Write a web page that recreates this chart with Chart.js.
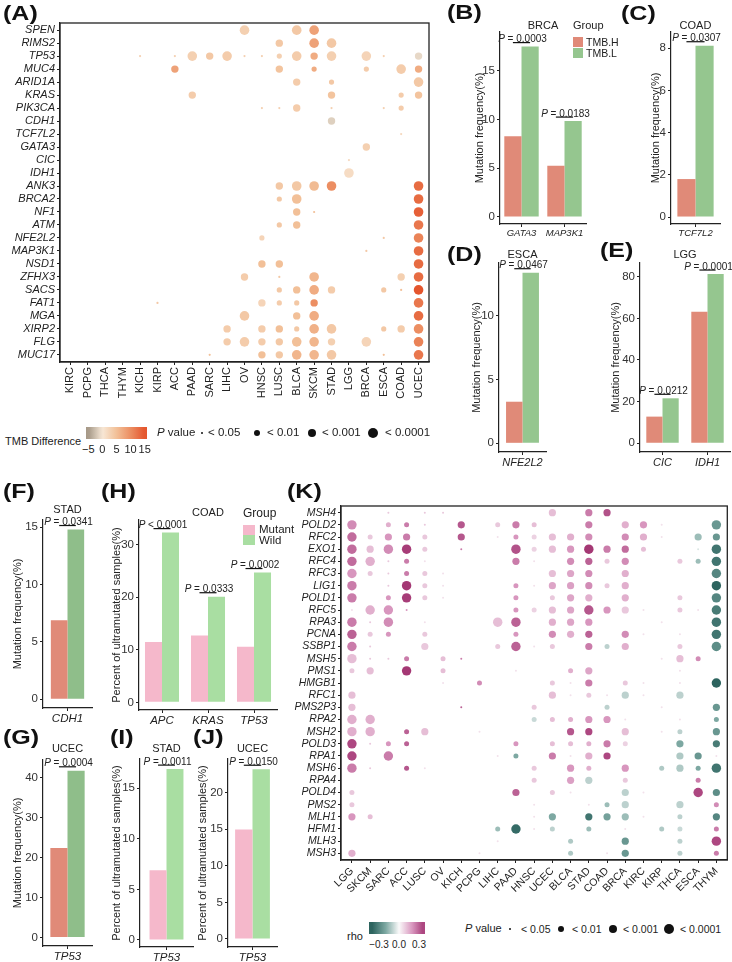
<!DOCTYPE html>
<html>
<head>
<meta charset="utf-8">
<script src="https://cdn.jsdelivr.net/npm/chart.js@4.4.0/dist/chart.umd.min.js"></script>
<style>
body { margin: 0; background: #fff; font-family: "Liberation Sans", Arial, sans-serif; }
#page { position: relative; width: 732px; height: 962px; overflow: hidden; background: #fff; }
.box { position: absolute; }
.t { position: absolute; line-height: 1.2; white-space: nowrap; color: #222; }
.lab { position: absolute; font-weight: bold; font-size: 20px; line-height: 1; transform: scaleX(1.25); transform-origin: left top; color: #111; }
.dot { position: absolute; border-radius: 50%; background: #111; }
.sw { position: absolute; }
</style>
</head>
<body>
<div id="page"></div>
<script>
const FONT = '"Liberation Sans", Arial, sans-serif';
Chart.defaults.font.family = FONT;

// ---------- panel A: genes x cancers, TMB difference ----------
const aGenes = ['SPEN','RIMS2','TP53','MUC4','ARID1A','KRAS','PIK3CA','CDH1','TCF7L2','GATA3','CIC','IDH1','ANK3','BRCA2','NF1','ATM','NFE2L2','MAP3K1','NSD1','ZFHX3','SACS','FAT1','MGA','XIRP2','FLG','MUC17'];
const aCancers = ['KIRC','PCPG','THCA','THYM','KICH','KIRP','ACC','PAAD','SARC','LIHC','OV','HNSC','LUSC','BLCA','SKCM','STAD','LGG','BRCA','ESCA','COAD','UCEC'];
// [gene, cancer, TMB difference, p level (1: <0.05 ... 4: <0.0001)]
const aDots = [
  ['SPEN','OV',3,4],['SPEN','BLCA',4,4],['SPEN','SKCM',8,4],
  ['RIMS2','LUSC',4,3],['RIMS2','SKCM',8,4],['RIMS2','STAD',4,4],
  ['TP53','KICH',3,1],['TP53','ACC',3,1],['TP53','PAAD',3,4],['TP53','SARC',4,3],['TP53','LIHC',3.5,4],['TP53','OV',3,1],['TP53','HNSC',3,1],['TP53','LUSC',3,2],['TP53','BLCA',3.5,4],['TP53','SKCM',7,3],['TP53','STAD',3,4],['TP53','BRCA',2.5,4],['TP53','ESCA',3,1],['TP53','UCEC',-1,3],
  ['MUC4','ACC',8,3],['MUC4','LUSC',4.5,3],['MUC4','SKCM',7,2],['MUC4','BRCA',3.5,2],['MUC4','COAD',3.5,4],['MUC4','UCEC',7,3],
  ['ARID1A','BLCA',3.5,3],['ARID1A','STAD',4,2],['ARID1A','UCEC',4,4],
  ['KRAS','PAAD',3.5,3],['KRAS','STAD',4.5,3],['KRAS','COAD',3.5,2],['KRAS','UCEC',4.5,3],
  ['PIK3CA','HNSC',3,1],['PIK3CA','LUSC',3,1],['PIK3CA','BLCA',3.5,3],['PIK3CA','STAD',3,1],['PIK3CA','ESCA',3,1],['PIK3CA','COAD',3.5,2],
  ['CDH1','STAD',-1.5,3],
  ['TCF7L2','COAD',2,1],
  ['GATA3','BRCA',3,3],
  ['CIC','LGG',2,1],
  ['IDH1','LGG',1.5,4],
  ['ANK3','LUSC',4,3],['ANK3','BLCA',4,4],['ANK3','SKCM',5.5,4],['ANK3','STAD',10,4],['ANK3','UCEC',13,4],
  ['BRCA2','LUSC',4,2],['BRCA2','BLCA',5,4],['BRCA2','UCEC',13,4],
  ['NF1','BLCA',5,3],['NF1','SKCM',5,1],['NF1','UCEC',14,4],
  ['ATM','LUSC',4,2],['ATM','BLCA',5,3],['ATM','UCEC',12,4],
  ['NFE2L2','HNSC',2.5,2],['NFE2L2','ESCA',4,1],['NFE2L2','UCEC',11,4],
  ['MAP3K1','BRCA',4,1],['MAP3K1','UCEC',13,4],
  ['NSD1','HNSC',5,3],['NSD1','LUSC',5,3],['NSD1','UCEC',13,4],
  ['ZFHX3','OV',3.5,3],['ZFHX3','LUSC',4,1],['ZFHX3','SKCM',6,4],['ZFHX3','COAD',3,3],['ZFHX3','UCEC',13,4],
  ['SACS','LUSC',4,2],['SACS','BLCA',5,3],['SACS','SKCM',7,4],['SACS','STAD',3.5,3],['SACS','ESCA',4,2],['SACS','COAD',5,1],['SACS','UCEC',15,4],
  ['FAT1','KIRP',4,1],['FAT1','HNSC',2.5,3],['FAT1','LUSC',3.5,2],['FAT1','BLCA',4,2],['FAT1','SKCM',10,3],['FAT1','UCEC',12,4],
  ['MGA','OV',4,4],['MGA','BLCA',5,3],['MGA','SKCM',7,4],['MGA','UCEC',13,4],
  ['XIRP2','LIHC',3.5,3],['XIRP2','HNSC',3.5,3],['XIRP2','LUSC',5,3],['XIRP2','BLCA',4,2],['XIRP2','SKCM',6.5,4],['XIRP2','STAD',4,4],['XIRP2','ESCA',4,2],['XIRP2','COAD',3.5,3],['XIRP2','UCEC',10,4],
  ['FLG','LIHC',3.5,3],['FLG','OV',3.5,4],['FLG','HNSC',3.5,3],['FLG','LUSC',4,3],['FLG','BLCA',5,4],['FLG','SKCM',6,4],['FLG','STAD',3,3],['FLG','BRCA',2.5,4],['FLG','UCEC',11,4],
  ['MUC17','SARC',5,1],['MUC17','HNSC',5,3],['MUC17','LUSC',4,3],['MUC17','BLCA',6,4],['MUC17','SKCM',6,4],['MUC17','STAD',4,4],['MUC17','ESCA',5,1],['MUC17','UCEC',12,4]
];
const aLegendTicks = [-5, 0, 5, 10, 15];

// ---------- panels B-J: bar values ----------
const bGenes = ['GATA3','MAP3K1'];  const bHigh = [8.3, 5.25];  const bLow = [17.5, 9.85];  const bP = ['P = 0.0003','P = 0.0183']; const bTicks = [0,5,10,15];
const cGenes = ['TCF7L2'];          const cHigh = [1.8];        const cLow = [8.12];        const cP = ['P = 0.0307']; const cTicks = [0,2,4,6,8];
const dGenes = ['NFE2L2'];          const dHigh = [3.26];       const dLow = [13.37];       const dP = ['P = 0.0467']; const dTicks = [0,5,10];
const eGenes = ['CIC','IDH1'];      const eHigh = [12.8, 63.2]; const eLow = [21.6, 81.3];  const eP = ['P = 0.0212','P = 0.0001']; const eTicks = [0,20,40,60,80];
const fGenes = ['CDH1'];            const fHigh = [6.9];        const fLow = [14.8];        const fP = ['P = 0.0341']; const fTicks = [0,5,10,15];
const gGenes = ['TP53'];            const gHigh = [22.4];       const gLow = [41.7];        const gP = ['P = 0.0004']; const gTicks = [0,10,20,30,40];
const hGenes = ['APC','KRAS','TP53']; const hMutant = [11.5, 12.7, 10.6]; const hWild = [32.3, 20.1, 24.7]; const hP = ['P < 0.0001','P = 0.0333','P = 0.0002']; const hTicks = [0,10,20,30];
const iGenes = ['TP53'];            const iMutant = [6.9];      const iWild = [16.9];       const iP = ['P = 0.0011']; const iTicks = [0,5,10,15];
const jGenes = ['TP53'];            const jMutant = [14.97];    const jWild = [23.2];       const jP = ['P = 0.0150']; const jTicks = [0,5,10,15,20];

// ---------- panel K: genes x cancers, rho ----------
const kGenes = ['MSH4','POLD2','RFC2','EXO1','RFC4','RFC3','LIG1','POLD1','RFC5','RPA3','PCNA','SSBP1','MSH5','PMS1','HMGB1','RFC1','PMS2P3','RPA2','MSH2','POLD3','RPA1','MSH6','RPA4','POLD4','PMS2','MLH1','HFM1','MLH3','MSH3'];
const kCancers = ['LGG','SKCM','SARC','ACC','LUSC','OV','KICH','PCPG','LIHC','PAAD','HNSC','UCEC','BLCA','STAD','COAD','BRCA','KIRC','KIRP','THCA','ESCA','THYM'];
// [gene, cancer, rho, p level]
const kDots = [
  ['MSH4','SARC',.1,1],['MSH4','LUSC',.1,1],['MSH4','OV',.1,1],['MSH4','UCEC',.12,3],['MSH4','STAD',.25,3],['MSH4','COAD',.33,3],
  ['POLD2','LGG',.22,4],['POLD2','SARC',.15,2],['POLD2','ACC',.25,2],['POLD2','LUSC',.1,1],['POLD2','KICH',.32,3],['POLD2','LIHC',.1,2],['POLD2','PAAD',.25,3],['POLD2','HNSC',.12,2],['POLD2','STAD',.25,3],['POLD2','BRCA',.15,3],['POLD2','KIRC',.2,3],['POLD2','KIRP',.05,1],['POLD2','THYM',-.25,4],
  ['RFC2','LGG',.28,4],['RFC2','SKCM',.1,2],['RFC2','SARC',.2,3],['RFC2','ACC',.25,3],['RFC2','LUSC',.1,2],['RFC2','KICH',.32,3],['RFC2','LIHC',.05,1],['RFC2','PAAD',.2,2],['RFC2','HNSC',.08,2],['RFC2','UCEC',.12,3],['RFC2','BLCA',.15,3],['RFC2','STAD',.22,3],['RFC2','BRCA',.22,3],['RFC2','KIRC',.15,3],['RFC2','KIRP',.05,1],['RFC2','ESCA',-.15,3],['RFC2','THYM',-.25,3],
  ['EXO1','LGG',.28,4],['EXO1','SKCM',.12,3],['EXO1','SARC',.22,4],['EXO1','ACC',.37,4],['EXO1','LUSC',.1,2],['EXO1','KICH',.25,1],['EXO1','PAAD',.33,4],['EXO1','HNSC',.08,2],['EXO1','UCEC',.12,3],['EXO1','BLCA',.2,3],['EXO1','STAD',.38,4],['EXO1','COAD',.25,3],['EXO1','BRCA',.28,3],['EXO1','KIRC',.12,2],['EXO1','ESCA',-.05,1],['EXO1','THYM',-.35,4],
  ['RFC4','LGG',.28,4],['RFC4','SKCM',.15,4],['RFC4','SARC',.1,1],['RFC4','ACC',.25,2],['RFC4','LUSC',.05,1],['RFC4','PAAD',.25,3],['RFC4','HNSC',.05,1],['RFC4','BLCA',.22,3],['RFC4','STAD',.3,3],['RFC4','COAD',.1,2],['RFC4','BRCA',.22,3],['RFC4','THCA',.1,2],['RFC4','ESCA',-.15,2],['RFC4','THYM',-.35,4],
  ['RFC3','LGG',.2,4],['RFC3','SKCM',.1,2],['RFC3','SARC',.1,1],['RFC3','ACC',.25,2],['RFC3','LUSC',.1,2],['RFC3','OV',.05,1],['RFC3','UCEC',.12,3],['RFC3','BLCA',.17,3],['RFC3','STAD',.22,3],['RFC3','BRCA',.15,3],['RFC3','THYM',-.3,4],
  ['LIG1','LGG',.25,4],['LIG1','SARC',.1,1],['LIG1','ACC',.38,4],['LIG1','LUSC',.1,2],['LIG1','OV',.05,1],['LIG1','PAAD',.2,2],['LIG1','HNSC',.05,1],['LIG1','UCEC',.17,3],['LIG1','BLCA',.18,3],['LIG1','STAD',.22,3],['LIG1','COAD',.1,2],['LIG1','BRCA',.15,3],['LIG1','THYM',-.4,4],
  ['POLD1','LGG',.25,4],['POLD1','SARC',.2,2],['POLD1','ACC',.37,4],['POLD1','LUSC',.1,2],['POLD1','OV',.05,1],['POLD1','PAAD',.2,2],['POLD1','UCEC',.1,2],['POLD1','BLCA',.17,3],['POLD1','STAD',.15,3],['POLD1','BRCA',.15,3],['POLD1','THCA',.1,2],['POLD1','THYM',-.3,4],
  ['RFC5','LGG',.05,1],['RFC5','SKCM',.15,4],['RFC5','SARC',.2,4],['RFC5','ACC',.2,1],['RFC5','PAAD',.2,2],['RFC5','HNSC',.08,2],['RFC5','UCEC',.12,3],['RFC5','BLCA',.17,3],['RFC5','STAD',.32,4],['RFC5','COAD',.2,3],['RFC5','BRCA',.1,3],['RFC5','KIRC',.05,1],['RFC5','THCA',.1,2],['RFC5','ESCA',.05,1],['RFC5','THYM',-.33,4],
  ['RPA3','LGG',.25,4],['RPA3','SKCM',.1,1],['RPA3','SARC',.22,4],['RPA3','LUSC',.05,1],['RPA3','LIHC',.12,4],['RPA3','PAAD',.3,4],['RPA3','UCEC',.15,3],['RPA3','BLCA',.17,3],['RPA3','STAD',.2,3],['RPA3','KIRP',.05,1],['RPA3','THYM',-.35,4],
  ['PCNA','LGG',.3,4],['PCNA','SKCM',.1,2],['PCNA','SARC',.2,2],['PCNA','LUSC',.1,2],['PCNA','PAAD',.2,2],['PCNA','UCEC',.22,3],['PCNA','BLCA',.15,3],['PCNA','STAD',.3,3],['PCNA','BRCA',.22,3],['PCNA','KIRC',.05,1],['PCNA','THCA',.05,1],['PCNA','THYM',-.35,4],
  ['SSBP1','LGG',.25,4],['SSBP1','SKCM',.1,1],['SSBP1','LUSC',.1,3],['SSBP1','LIHC',.1,2],['SSBP1','PAAD',.3,4],['SSBP1','HNSC',.05,1],['SSBP1','UCEC',.1,2],['SSBP1','STAD',.25,3],['SSBP1','COAD',-.1,2],['SSBP1','BRCA',.15,3],['SSBP1','THCA',.1,2],['SSBP1','THYM',-.28,4],
  ['MSH5','LGG',.12,4],['MSH5','SKCM',.1,1],['MSH5','SARC',.1,1],['MSH5','ACC',.25,2],['MSH5','OV',.12,2],['MSH5','KICH',.25,1],['MSH5','KIRP',.05,1],['MSH5','THCA',.12,3],['MSH5','ESCA',.22,2],
  ['PMS1','LGG',.1,2],['PMS1','SKCM',.12,3],['PMS1','ACC',.38,4],['PMS1','OV',.12,2],['PMS1','PAAD',.05,1],['PMS1','BLCA',.15,2],['PMS1','STAD',.17,3],['PMS1','THCA',.05,1],
  ['HMGB1','OV',.05,1],['HMGB1','PCPG',.22,2],['HMGB1','UCEC',.1,2],['HMGB1','BLCA',.05,1],['HMGB1','STAD',.25,3],['HMGB1','BRCA',.1,2],['HMGB1','KIRC',.05,1],['HMGB1','THCA',.05,1],['HMGB1','THYM',-.4,4],
  ['RFC1','LGG',.12,3],['RFC1','UCEC',.12,3],['RFC1','BLCA',.05,1],['RFC1','STAD',.1,2],['RFC1','COAD',.05,1],['RFC1','BRCA',-.1,3],['RFC1','KIRC',.05,1],['RFC1','THCA',-.1,3],
  ['PMS2P3','LGG',.12,3],['PMS2P3','KICH',.3,1],['PMS2P3','HNSC',.1,2],['PMS2P3','COAD',-.1,2],['PMS2P3','KIRP',.05,1],['PMS2P3','THYM',-.25,3],
  ['RPA2','LGG',.15,4],['RPA2','SKCM',.15,4],['RPA2','HNSC',-.08,2],['RPA2','UCEC',.12,2],['RPA2','BLCA',.15,2],['RPA2','STAD',.2,3],['RPA2','COAD',.2,3],['RPA2','BRCA',.05,1],['RPA2','THCA',.05,1],['RPA2','THYM',-.2,2],
  ['MSH2','LGG',.15,4],['MSH2','SKCM',.15,4],['MSH2','ACC',.3,2],['MSH2','LUSC',.12,3],['MSH2','PCPG',.05,1],['MSH2','BLCA',.32,3],['MSH2','STAD',.35,3],['MSH2','BRCA',.12,3],['MSH2','KIRP',.05,1],['MSH2','THCA',-.1,2],['MSH2','THYM',-.25,3],
  ['POLD3','LGG',.35,4],['POLD3','SKCM',.1,1],['POLD3','SARC',.2,2],['POLD3','ACC',.3,2],['POLD3','PAAD',.2,2],['POLD3','UCEC',.12,2],['POLD3','BLCA',.12,2],['POLD3','STAD',.15,2],['POLD3','COAD',.25,3],['POLD3','BRCA',.08,2],['POLD3','THCA',-.2,3],['POLD3','THYM',-.33,3],
  ['RPA1','LGG',.35,4],['RPA1','SARC',.25,4],['RPA1','LIHC',.05,1],['RPA1','PAAD',-.2,2],['RPA1','UCEC',.25,3],['RPA1','BLCA',.05,1],['RPA1','STAD',.15,3],['RPA1','COAD',.35,3],['RPA1','THCA',-.12,3],['RPA1','ESCA',-.25,3],['RPA1','THYM',.05,1],
  ['MSH6','LGG',.25,4],['MSH6','SKCM',.1,1],['MSH6','ACC',.32,2],['MSH6','LUSC',.05,1],['MSH6','HNSC',.1,2],['MSH6','BLCA',.2,3],['MSH6','STAD',.15,2],['MSH6','BRCA',.2,3],['MSH6','KIRP',-.12,2],['MSH6','THCA',-.12,3],['MSH6','ESCA',-.2,2],['MSH6','THYM',-.35,4],
  ['RPA4','HNSC',.1,2],['RPA4','BLCA',.18,3],['RPA4','STAD',-.1,3],['RPA4','BRCA',.1,2],['RPA4','ESCA',.25,2],
  ['POLD4','LGG',.1,2],['POLD4','PAAD',.3,3],['POLD4','UCEC',.1,2],['POLD4','BLCA',.05,1],['POLD4','BRCA',-.1,3],['POLD4','KIRC',.05,1],['POLD4','ESCA',.35,4],['POLD4','THYM',-.28,3],
  ['PMS2','LGG',.1,2],['PMS2','HNSC',.05,1],['PMS2','STAD',.05,1],['PMS2','COAD',-.15,2],['PMS2','BRCA',-.1,3],['PMS2','THCA',-.1,3],['PMS2','THYM',.22,2],
  ['MLH1','LGG',.2,3],['MLH1','SKCM',.12,2],['MLH1','HNSC',.05,1],['MLH1','UCEC',-.2,3],['MLH1','STAD',-.35,3],['MLH1','COAD',-.22,3],['MLH1','BRCA',-.15,3],['MLH1','KIRC',.05,1],['MLH1','THCA',-.1,2],['MLH1','THYM',-.3,3],
  ['HFM1','LIHC',-.15,2],['HFM1','PAAD',-.38,4],['HFM1','HNSC',.05,1],['HFM1','UCEC',-.1,2],['HFM1','STAD',-.15,2],['HFM1','BRCA',.05,1],['HFM1','KIRP',-.12,2],['HFM1','THCA',-.08,2],['HFM1','THYM',.25,2],
  ['MLH3','LIHC',.05,1],['MLH3','BLCA',-.12,2],['MLH3','BRCA',-.25,3],['MLH3','THCA',-.1,2],['MLH3','THYM',.35,4],
  ['MSH3','LGG',.15,3],['MSH3','PCPG',.05,1],['MSH3','BLCA',-.12,2],['MSH3','COAD',.05,1],['MSH3','BRCA',-.25,3],['MSH3','THCA',-.1,2],['MSH3','THYM',.25,2]
];
const kLegendTicks = [-0.3, 0.0, 0.3];

// ---------- helpers ----------
const page = document.getElementById('page');

function mix(stops, v) {
  if (v <= stops[0][0]) return stops[0][1];
  for (let i = 1; i < stops.length; i++) {
    if (v <= stops[i][0]) {
      const [v0, c0] = stops[i - 1], [v1, c1] = stops[i];
      const t = (v - v0) / (v1 - v0);
      return c0.map((c, k) => Math.round(c + (c1[k] - c) * t));
    }
  }
  return stops[stops.length - 1][1];
}
const tmbStops = [[-5,[165,152,135]],[0,[247,232,215]],[5,[242,192,152]],[10,[236,142,98]],[15,[228,85,45]]];
const rhoStops = [[-0.4,[45,100,95]],[-0.2,[125,168,162]],[0,[250,250,250]],[0.2,[216,150,190]],[0.4,[158,45,108]]];
const rgb = c => `rgb(${c[0]},${c[1]},${c[2]})`;

function put(html, x, yc, size, extra) {
  const d = document.createElement('div');
  d.className = 't';
  d.innerHTML = html;
  d.style.left = x + 'px';
  d.style.top = (yc - size * 0.6) + 'px';
  d.style.fontSize = size + 'px';
  if (extra) Object.assign(d.style, extra);
  page.appendChild(d);
  return d;
}
function lab(text, x, y) {
  const d = document.createElement('div');
  d.className = 'lab'; d.textContent = text;
  d.style.left = x + 'px'; d.style.top = y + 'px';
  page.appendChild(d);
}
function dot(cx, cy, r) {
  const d = document.createElement('div');
  d.className = 'dot';
  Object.assign(d.style, {left: (cx - r) + 'px', top: (cy - r) + 'px', width: 2 * r + 'px', height: 2 * r + 'px'});
  page.appendChild(d);
}
function swatch(x, y, w, h, bg) {
  const d = document.createElement('div');
  d.className = 'sw';
  Object.assign(d.style, {left: x + 'px', top: y + 'px', width: w + 'px', height: h + 'px', background: bg});
  page.appendChild(d);
}
function box(left, top, width, height) {
  const d = document.createElement('div');
  d.className = 'box';
  Object.assign(d.style, {left: left + 'px', top: top + 'px', width: width + 'px', height: height + 'px'});
  const cv = document.createElement('canvas');
  d.appendChild(cv);
  page.appendChild(d);
  return cv;
}

const framePlugin = {
  id: 'frame',
  afterDatasetsDraw(chart) {
    const {ctx, chartArea: a} = chart;
    ctx.save();
    ctx.strokeStyle = '#222';
    ctx.lineWidth = 1.3;
    ctx.strokeRect(a.left, a.top, a.right - a.left, a.bottom - a.top);
    ctx.restore();
  }
};

const sigPlugin = {
  id: 'sig',
  afterDatasetsDraw(chart, args, o) {
    const {ctx, chartArea: a} = chart;
    const m0 = chart.getDatasetMeta(0), m1 = chart.getDatasetMeta(1);
    ctx.save();
    ctx.fillStyle = '#222';
    ctx.textBaseline = 'alphabetic';
    ctx.textAlign = 'center';
    ctx.font = `11px ${FONT}`;
    ctx.fillText(o.title, (a.left + a.right) / 2, a.top + o.tdy);
    o.pv.forEach((p, i) => {
      const b0 = m0.data[i], b1 = m1.data[i];
      const ly = Math.min(b0.y, b1.y) - 4;
      ctx.strokeStyle = '#111';
      ctx.lineWidth = 1.2;
      ctx.beginPath(); ctx.moveTo(b0.x, ly); ctx.lineTo(b1.x, ly); ctx.stroke();
      const rest = p.slice(1);
      ctx.font = `italic 10px ${FONT}`;
      const w1 = ctx.measureText('P').width;
      ctx.font = `10px ${FONT}`;
      const w2 = ctx.measureText(rest).width;
      const x0 = (b0.x + b1.x) / 2 + 1 - (w1 + w2) / 2;
      ctx.textAlign = 'left';
      ctx.font = `italic 10px ${FONT}`;
      ctx.fillText('P', x0, ly - 0.5);
      ctx.font = `10px ${FONT}`;
      ctx.fillText(rest, x0 + w1, ly - 0.5);
    });
    ctx.restore();
  }
};

const axisGrid = {drawOnChartArea: false, drawTicks: true, tickLength: 3, color: '#222', lineWidth: 1, offset: false};
const axisBorder = {color: '#222', width: 1.2};

function barPanel(g) {
  const cv = box(g.left, g.top, g.width, g.height);
  new Chart(cv, {
    type: 'bar',
    data: {
      labels: g.genes,
      datasets: [
        {data: g.a, backgroundColor: g.colA, categoryPercentage: g.cat, barPercentage: 1, borderWidth: 0},
        {data: g.b, backgroundColor: g.colB, categoryPercentage: g.cat, barPercentage: 1, borderWidth: 0}
      ]
    },
    options: {
      responsive: true, maintainAspectRatio: false, animation: false, events: [],
      layout: {padding: {top: g.areaTop - g.top, right: g.left + g.width - g.areaRight, left: 0, bottom: 0}},
      plugins: {legend: {display: false}, tooltip: {enabled: false}, sig: {title: g.title, tdy: g.tdy, pv: g.pv}},
      scales: {
        x: {
          grid: axisGrid, border: axisBorder,
          ticks: {font: {size: g.xFont, style: 'italic'}, color: '#222', padding: 1, maxRotation: 0, autoSkip: false},
          afterFit: s => { s.height = g.top + g.height - g.areaBottom; }
        },
        y: {
          min: g.ymin, max: g.ymax,
          grid: axisGrid, border: axisBorder,
          afterBuildTicks: s => { s.ticks = g.ticks.map(v => ({value: v})); },
          ticks: {font: {size: 11.5}, color: '#333', padding: 2},
          title: {display: true, text: g.ylab, font: {size: 11}, color: '#222', padding: 0},
          afterFit: s => { s.width = g.areaLeft - g.left; }
        }
      }
    },
    plugins: [sigPlugin]
  });
}

function bubblePanel(g) {
  const cv = box(g.left, g.top, g.width, g.height);
  new Chart(cv, {
    type: 'bubble',
    data: {
      datasets: [{
        data: g.dots.map(d => ({x: g.cols.indexOf(d[1]), y: g.rows.indexOf(d[0]), r: g.radius[d[3]], v: d[2]})),
        backgroundColor: c => rgb(mix(g.stops, c.raw.v)),
        borderWidth: 0, hoverRadius: 0
      }]
    },
    options: {
      responsive: true, maintainAspectRatio: false, animation: false, events: [],
      layout: {padding: {top: g.areaTop - g.top, right: g.left + g.width - g.areaRight, left: 0, bottom: 0}},
      plugins: {legend: {display: false}, tooltip: {enabled: false}},
      scales: {
        x: {
          type: 'linear', min: -0.6, max: g.cols.length - 0.4,
          grid: axisGrid, border: axisBorder,
          afterBuildTicks: s => { s.ticks = g.cols.map((c, i) => ({value: i})); },
          ticks: {callback: v => g.cols[v], font: {size: g.xFont}, color: '#222', padding: 2,
                  autoSkip: false, minRotation: g.rot, maxRotation: g.rot},
          afterFit: s => { s.height = g.top + g.height - g.areaBottom; }
        },
        y: {
          type: 'linear', reverse: true, min: -0.55, max: g.rows.length - 0.45,
          grid: axisGrid, border: axisBorder,
          afterBuildTicks: s => { s.ticks = g.rows.map((c, i) => ({value: i})); },
          ticks: {callback: v => g.rows[v], font: {size: g.yFont, style: 'italic'}, color: '#222', padding: 2, autoSkip: false},
          afterFit: s => { s.width = g.areaLeft - g.left; }
        }
      }
    },
    plugins: [framePlugin]
  });
}

// ---------- A ----------
bubblePanel({left: 0, top: 0, width: 440, height: 405, areaLeft: 60, areaTop: 23, areaRight: 429, areaBottom: 362,
  rows: aGenes, cols: aCancers, dots: aDots, radius: [0, 1.1, 2.6, 3.7, 4.8], stops: tmbStops, rot: 90, xFont: 11, yFont: 11});

// ---------- K ----------
bubblePanel({left: 280, top: 480, width: 452, height: 430, areaLeft: 341, areaTop: 506, areaRight: 729, areaBottom: 860,
  rows: kGenes, cols: kCancers, dots: kDots, radius: [0, 1.0, 2.5, 3.6, 4.7], stops: rhoStops, rot: 45, xFont: 10.5, yFont: 10.5});

// ---------- bars ----------
const cH = '#e08a78', cL = '#95c68f', cL2 = '#8fbe8a', cM = '#f5b8cb', cW = '#a9dea2';
const MF = 'Mutation frequency(%)', PU = 'Percent of ultramutated samples(%)';

barPanel({left: 473, top: 0, width: 117, height: 245, areaLeft: 500, areaTop: 32, areaRight: 586, areaBottom: 224,
  genes: bGenes, a: bHigh, b: bLow, colA: cH, colB: cL, cat: 0.8, ymin: -0.72, ymax: 19.0, ticks: bTicks,
  title: 'BRCA', tdy: -3, pv: bP, ylab: MF, xFont: 9.5});
barPanel({left: 649, top: 0, width: 77, height: 245, areaLeft: 671, areaTop: 32, areaRight: 720, areaBottom: 224,
  genes: cGenes, a: cHigh, b: cLow, colA: cH, colB: cL, cat: 0.74, ymin: -0.33, ymax: 8.77, ticks: cTicks,
  title: 'COAD', tdy: -3, pv: cP, ylab: MF, xFont: 9.5});
barPanel({left: 470, top: 230, width: 80, height: 245, areaLeft: 499, areaTop: 263, areaRight: 546, areaBottom: 452,
  genes: dGenes, a: dHigh, b: dLow, colA: cH, colB: cL, cat: 0.7, ymin: -0.68, ymax: 14.13, ticks: dTicks,
  title: 'ESCA', tdy: -5, pv: dP, ylab: MF, xFont: 11});
barPanel({left: 609, top: 230, width: 123, height: 245, areaLeft: 640, areaTop: 263, areaRight: 730, areaBottom: 452,
  genes: eGenes, a: eHigh, b: eLow, colA: cH, colB: cL, cat: 0.72, ymin: -4.2, ymax: 86.6, ticks: eTicks,
  title: 'LGG', tdy: -5, pv: eP, ylab: MF, xFont: 11});
barPanel({left: 11, top: 480, width: 85, height: 245, areaLeft: 43, areaTop: 520, areaRight: 92, areaBottom: 708,
  genes: fGenes, a: fHigh, b: fLow, colA: cH, colB: cL2, cat: 0.68, ymin: -0.76, ymax: 15.63, ticks: fTicks,
  title: 'STAD', tdy: -7, pv: fP, ylab: MF, xFont: 11.5});
barPanel({left: 11, top: 720, width: 85, height: 242, areaLeft: 43, areaTop: 760, areaRight: 92, areaBottom: 946,
  genes: gGenes, a: gHigh, b: gLow, colA: cH, colB: cL2, cat: 0.7, ymin: -2.1, ymax: 44.4, ticks: gTicks,
  title: 'UCEC', tdy: -8, pv: gP, ylab: MF, xFont: 11.5});
barPanel({left: 110, top: 480, width: 171, height: 245, areaLeft: 139, areaTop: 520, areaRight: 277, areaBottom: 710,
  genes: hGenes, a: hMutant, b: hWild, colA: cM, colB: cW, cat: 0.74, ymin: -1.46, ymax: 34.7, ticks: hTicks,
  title: 'COAD', tdy: -4, pv: hP, ylab: PU, xFont: 11.5});
barPanel({left: 110, top: 720, width: 87, height: 242, areaLeft: 140, areaTop: 759, areaRight: 193, areaBottom: 947,
  genes: iGenes, a: iMutant, b: iWild, colA: cM, colB: cW, cat: 0.64, ymin: -0.7, ymax: 17.9, ticks: iTicks,
  title: 'STAD', tdy: -7, pv: iP, ylab: PU, xFont: 11.5});
barPanel({left: 196, top: 720, width: 85, height: 242, areaLeft: 228, areaTop: 759, areaRight: 277, areaBottom: 947,
  genes: jGenes, a: jMutant, b: jWild, colA: cM, colB: cW, cat: 0.71, ymin: -1.1, ymax: 24.6, ticks: jTicks,
  title: 'UCEC', tdy: -7, pv: jP, ylab: PU, xFont: 11.5});

// ---------- legends ----------
// A: TMB difference colour bar + P value sizes
put('TMB Difference', 5, 442, 11);
{
  const lo = -5.8, hi = 15.8;
  const stops = [];
  for (let v = lo; v <= hi + 0.01; v += 1.2) stops.push(rgb(mix(tmbStops, v)) + ' ' + ((v - lo) / (hi - lo) * 100).toFixed(1) + '%');
  swatch(86, 427, 61, 12, 'linear-gradient(to right,' + stops.join(',') + ')');
  aLegendTicks.forEach(v => {
    const x = 86 + (v - lo) / (hi - lo) * 61;
    put(String(v).replace('-', '\u2212'), x, 450, 11, {transform: 'translateX(-50%)'});
  });
}
put('<i>P</i> value', 157, 433, 11.5);
dot(202, 433, 1.2); put('&lt; 0.05', 208, 433, 11.5);
dot(257, 433, 3);   put('&lt; 0.01', 267, 433, 11.5);
dot(312, 433, 4);   put('&lt; 0.001', 322, 433, 11.5);
dot(373, 433, 5);   put('&lt; 0.0001', 385, 433, 11.5);

// B legend
put('Group', 573, 26, 11);
swatch(573, 37, 10, 10, cH); put('TMB.H', 586, 42, 10.5);
swatch(573, 48, 10, 10, cL); put('TMB.L', 586, 53, 10.5);

// H legend
put('Group', 243, 513, 12);
swatch(243, 525, 12, 10, cM); put('Mutant', 259, 530, 11.5);
swatch(243, 535, 12, 10, cW); put('Wild', 259, 541, 11.5);

// K: rho colour bar + P value sizes
put('rho', 347, 937, 11);
{
  const lo = -0.45, hi = 0.39;
  const stops = [];
  for (let v = lo; v <= hi + 0.001; v += 0.05) stops.push(rgb(mix(rhoStops, v)) + ' ' + ((v - lo) / (hi - lo) * 100).toFixed(1) + '%');
  swatch(369, 922, 56, 12, 'linear-gradient(to right,' + stops.join(',') + ')');
  kLegendTicks.forEach(v => {
    const x = 369 + (v - lo) / (hi - lo) * 56;
    put(v.toFixed(1).replace('-', '\u2212'), x, 945, 10, {transform: 'translateX(-50%)'});
  });
}
put('<i>P</i> value', 465, 929, 11);
dot(510, 929, 1.2); put('&lt; 0.05', 521, 929, 10.5);
dot(561, 929, 3);   put('&lt; 0.01', 572, 929, 10.5);
dot(613, 929, 4);   put('&lt; 0.001', 623, 929, 10.5);
dot(669, 929, 5);   put('&lt; 0.0001', 680, 929, 10.5);

// panel letters
lab('(A)', 3, 3); lab('(B)', 447, 2); lab('(C)', 621, 3);
lab('(D)', 447, 244); lab('(E)', 600, 240);
lab('(F)', 3, 481); lab('(H)', 101, 481); lab('(K)', 287, 481);
lab('(G)', 3, 727); lab('(I)', 110, 727); lab('(J)', 193, 727);
</script>
</body>
</html>
